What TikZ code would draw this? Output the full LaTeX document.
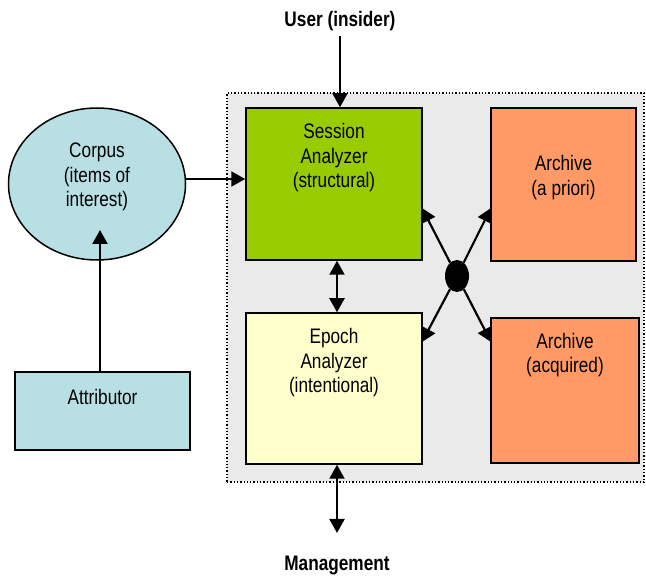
\documentclass[tikz,border=0pt]{standalone}
\usepackage{fontspec}
\setmainfont{Liberation Sans}[FakeStretch=0.82]
\usetikzlibrary{arrows.meta,shapes.geometric}
\definecolor{sessgreen}{HTML}{99CC00}
\definecolor{epochyellow}{HTML}{FFFFCC}
\definecolor{archorange}{HTML}{FF9966}
\definecolor{lightblue}{HTML}{B8DFE3}
\definecolor{bggray}{HTML}{EAEAEA}
\tikzset{
  box/.style={draw=black, line width=1.5pt, inner sep=0pt},
  txt/.style={align=center, inner sep=0pt, font=\fontsize{21}{24.5}\selectfont},
  lbl/.style={inner sep=0pt, font=\fontsize{21}{24}\selectfont\bfseries},
  conn/.style={line width=2.2pt, -{Triangle[length=14pt,width=15pt]}},
  dconn/.style={line width=2.2pt, {Triangle[length=14pt,width=15pt]}-{Triangle[length=14pt,width=15pt]}},
}
\begin{document}
\begin{tikzpicture}[x=1pt,y=1pt]
\useasboundingbox (0,0) rectangle (646,576);
% background frame
\node[draw=black, dotted, line width=1.3pt, fill=bggray, minimum width=417pt, minimum height=389pt, inner sep=0pt] (frame) at (435.5,288.5) {};
% boxes
\node[box, fill=sessgreen, minimum width=176pt, minimum height=152pt] (sess) at (334,392) {};
\node[box, fill=epochyellow, minimum width=176pt, minimum height=151pt] (epoch) at (334,187.5) {};
\node[box, fill=archorange, minimum width=145pt, minimum height=153pt] (arch1) at (563.5,391.5) {};
\node[box, fill=archorange, minimum width=148pt, minimum height=145pt] (arch2) at (565,185.5) {};
\node[box, fill=lightblue, ellipse, minimum width=177pt, minimum height=152pt] (corpus) at (97,392) {};
\node[box, fill=lightblue, minimum width=175pt, minimum height=78pt] (attr) at (102.5,165) {};
\node[ellipse, fill=black, minimum width=24pt, minimum height=32pt, inner sep=0pt] (hub) at (457,300) {};
% texts
\node[txt] (sesst) at (334,418) {Session\\Analyzer\\(structural)};
\node[txt] (epocht) at (334,213) {Epoch\\Analyzer\\(intentional)};
\node[txt] (arch1t) at (563.5,398.5) {Archive\\(a priori)};
\node[txt] (arch2t) at (565,221) {Archive\\(acquired)};
\node[txt] (corpust) at (97,399) {Corpus\\(items of\\interest)};
\node[txt] (attrt) at (102.5,179) {Attributor};
\node[lbl] (user) at (340,555) {User (insider)};
\node[lbl] (mgmt) at (337,10) {Management};
% coordinates
\coordinate (mgmtend) at (337,43);
\coordinate (tl) at (422,368);
\coordinate (tr) at (491,368);
\coordinate (bl) at (422,234);
\coordinate (br) at (491,234);
% connectors
\draw[conn] ([yshift=-5pt]user.south) -- (user.south |- sess.north);
\draw[conn] ([yshift=5pt]corpus.east) -- ([yshift=5pt]corpus.east -| sess.west);
\draw[conn] (attr.north -| 100,0) -- (100,346);
\draw[dconn] (sess.south -| 337,0) -- (epoch.north -| 337,0);
\draw[dconn] (epoch.south -| 337,0) -- (mgmtend);
\draw[conn] (hub) -- (tl);
\draw[conn] (hub) -- (tr);
\draw[conn] (hub) -- (bl);
\draw[conn] (hub) -- (br);
\end{tikzpicture}
\end{document}
